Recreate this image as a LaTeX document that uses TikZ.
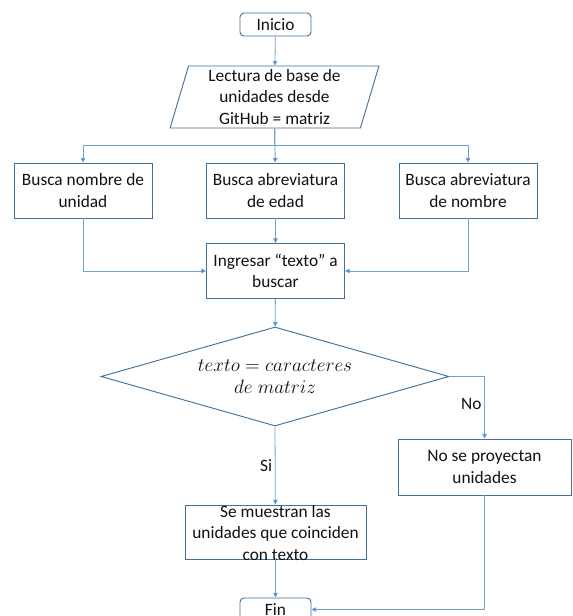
\documentclass[tikz,border=0pt]{standalone}
\usepackage{fontspec}
\setmainfont{Carlito}
\usepackage{tikz}
\usetikzlibrary{positioning,arrows.meta,shapes.geometric}
\definecolor{fedge}{HTML}{41719C}
\definecolor{fline}{HTML}{6FA0D6}
\definecolor{ftip}{HTML}{2E75B6}
\definecolor{ftext}{HTML}{111111}
\tikzset{
  n/.style  = {draw=fedge, fill=white, line width=0.7pt, rectangle,
               minimum width=103.5pt, minimum height=41.25pt, align=center,
               inner sep=1pt, font=\fontsize{13}{16.2}\selectfont, text=ftext},
  nt/.style = {n, rounded corners=3pt, minimum width=53.25pt, minimum height=17.25pt},
  nw/.style = {n, minimum width=129.75pt, minimum height=42pt},
  nl/.style = {n, minimum width=135.75pt, minimum height=40.5pt},
  p/.style  = {n, trapezium, trapezium left angle=76, trapezium right angle=104,
               trapezium stretches=true, minimum width=156.75pt, minimum height=46.5pt},
  d/.style  = {n, diamond, aspect=3.5, inner sep=0pt,
               minimum width=261pt, minimum height=74.25pt,
               font=\fontsize{14.5}{17}\selectfont},
  tx/.style = {align=center, inner sep=0pt, font=\fontsize{13}{16.2}\selectfont, text=ftext},
  a/.style  = {-{Triangle[length=3.5pt,width=3.5pt,fill=ftip]}, line width=0.6pt, draw=fline},
  al/.style = {font=\fontsize{13}{15}\selectfont, text=ftext, inner sep=2pt},
}

\begin{document}
\begin{tikzpicture}[x=0.75pt, y=-0.75pt]
\useasboundingbox (0,0) rectangle (572,616);

% ---- top
\node[nt] (ini) at (275.5,24.5) {Inicio};
\node[p]  (lec) at (274.5,97)   {Lectura de base de\\unidades desde\\GitHub = matriz};

% ---- three searches
\node[n]  (bnom) at (83,190.5)    {Busca nombre de\\unidad};
\node[n]  (bed)  at (275.5,190.5) {Busca abreviatura\\de edad};
\node[n]  (babr) at (468,190.5)   {Busca abreviatura\\de nombre};
\node[n]  (ing)  at (275.5,271)   {Ingresar “texto” a\\buscar};

% ---- decision
\node[d]  (cmp) at (275,376.5) {$texto = caracteres$\\$de\;matriz$};
\node[nw] (nop) at (484.5,467) {No se proyectan\\unidades};
\node[nl] (mue) at (275.5,532) {};
\node[tx] (mtx) at (275.5,533) {Se muestran las\\unidades que coinciden\\con texto};
\node[nt] (fin) at (275.5,609.5) {Fin};

% ---- flow
\draw[a] (ini) -- (lec);
\draw[a] (lec) -- (bed);
\draw[a] (lec.south) -- ++(0,17) -| (bnom);
\draw[a] (lec.south) -- ++(0,17) -| (babr);
\draw[a] (bed) -- (ing);
\draw[a] (bnom) |- (ing.west);
\draw[a] (babr) |- (ing.east);
\draw[a] (ing) -- (cmp);

% ---- yes / no
\draw[a] (cmp.east) -| node[al,pos=0.72,left] {No} (nop.north);
\draw[a] (cmp.south) -- node[al,left,pos=0.5] {Si} (mue);
\draw[a] (mue) -- (fin);
\draw[a] (nop.south) |- (fin.east);

\end{tikzpicture}
\end{document}
